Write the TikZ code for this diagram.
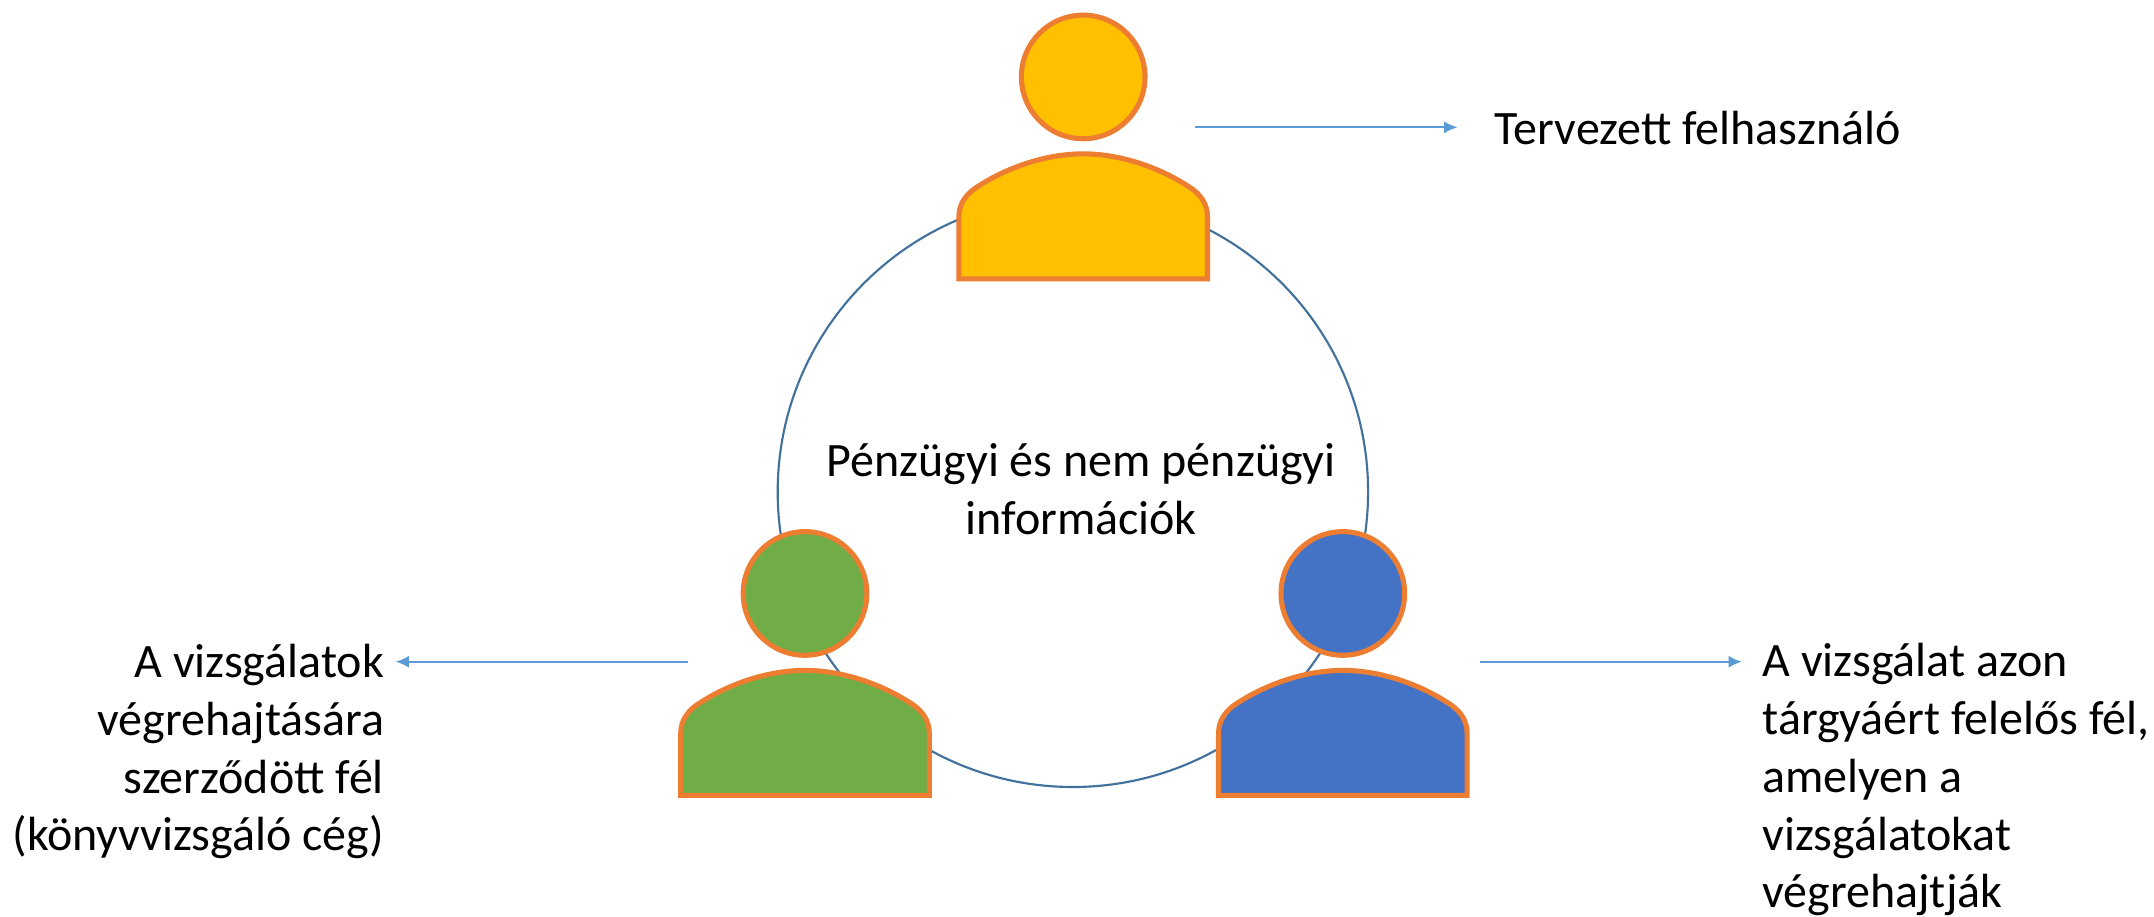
\documentclass[tikz,border=0pt]{standalone}
\usepackage{fontspec}
\setmainfont{Carlito}
\usetikzlibrary{arrows.meta}
\definecolor{orangeline}{HTML}{ED7D31}
\definecolor{ringline}{HTML}{41719C}
\definecolor{arrowline}{HTML}{5B9BD5}
\definecolor{yellowfill}{HTML}{FFC000}
\definecolor{greenfill}{HTML}{70AD47}
\definecolor{bluefill}{HTML}{4472C4}
\tikzset{
  x=1.0303pt,y=-1.0303pt,
  personpart/.style={draw=orangeline,line width=3.8pt,line join=miter},
  ring/.style={draw=ringline,line width=1.6pt},
  pointer/.style={draw=arrowline,line width=1.6pt,-{Latex[length=10pt,width=9pt]}},
  label/.style={inner sep=0pt,outer sep=0pt,font=\fontsize{36}{43.3}\selectfont},
  person/.pic={
    \path[personpart,fill=#1] (0,-56) circle[radius=45];
    \path[personpart,fill=#1] (-90.5,91) -- (-90.5,46)
      .. controls (-90.5,36) and (-85,30) .. (-80,26)
      .. controls (-60,12) and (-30,0) .. (0,0)
      .. controls (30,0) and (60,12) .. (80,26)
      .. controls (85,30) and (90.5,36) .. (90.5,46)
      -- (90.5,91) -- cycle;
  }
}
\begin{document}
\begin{tikzpicture}
\useasboundingbox (0,0) rectangle (1568,666.8);
\node[circle,ring,minimum size=442.8pt,inner sep=0pt] (kor) at (781,358) {};
\pic at (788.5,112) {person=yellowfill};
\pic at (586,488) {person=greenfill};
\pic at (977.5,488) {person=bluefill};
\coordinate (a1) at (870,92.7);
\coordinate (a2) at (501,481.7);
\coordinate (a3) at (1077,481.7);
\node[label,anchor=west] (tf) at (1088,93) {Tervezett felhasználó};
\node[label,anchor=north east,align=right] (vf) at (279.5,469) {A vizsgálatok\\végrehajtására\\szerződött fél\\(könyvvizsgáló cég)};
\node[label,anchor=north west,align=left] (ff) at (1283,468.5) {A vizsgálat azon\\tárgyáért felelős fél,\\amelyen a\\vizsgálatokat\\végrehajtják};
\node[label,align=center] (pi) at (787,356) {Pénzügyi és nem pénzügyi\\információk};
\coordinate (e1) at (1061,92.7);
\coordinate (e2) at (288,481.7);
\coordinate (e3) at (1268,481.7);
\draw[pointer] (a1) -- (e1);
\draw[pointer] (a2) -- (e2);
\draw[pointer] (a3) -- (e3);
\end{tikzpicture}
\end{document}
